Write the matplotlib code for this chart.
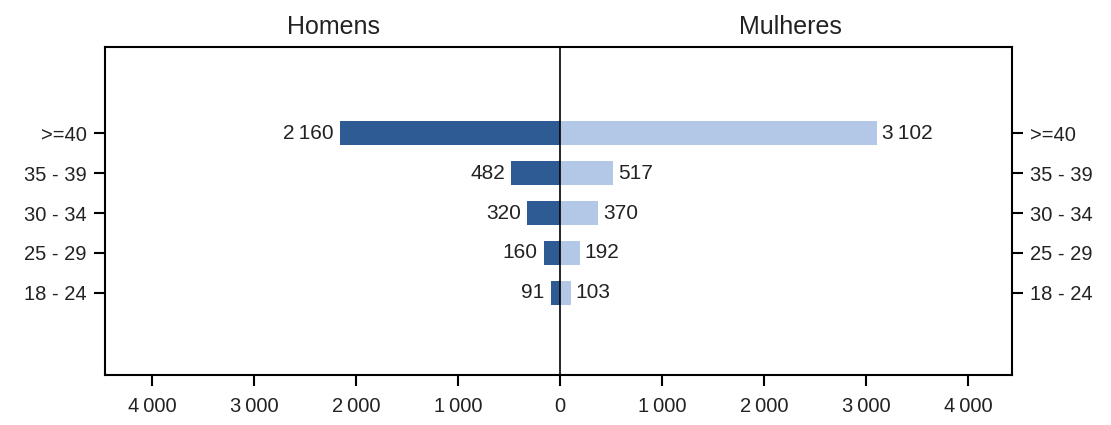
import matplotlib.pyplot as plt
import numpy as np

plt.rcParams['font.family'] = ['Liberation Sans', 'DejaVu Sans']

# Data
age_groups = ['18 - 24', '25 - 29', '30 - 34', '35 - 39', '>=40']
homens = [91, 160, 320, 482, 2160]
mulheres = [103, 192, 370, 517, 3102]
x_ticks = [-4000, -3000, -2000, -1000, 0, 1000, 2000, 3000, 4000]


def fmt(v):
    """Thousands separated by a thin space"""
    s = f"{abs(int(v)):,}"
    return s.replace(',', '\u2009')


fig, ax = plt.subplots(figsize=(11.11, 4.25), dpi=100)
fig.subplots_adjust(left=0.0945, right=0.911, top=0.889, bottom=0.118)

y = np.arange(len(age_groups))
dark = '#2E5B94'
light = '#B3C8E6'

ax.barh(y, [-v for v in homens], height=0.6, color=dark)
ax.barh(y, mulheres, height=0.6, color=light)

# value labels
for yi, v in zip(y, homens):
    ax.text(-v - 60, yi, fmt(v), ha='right', va='center', fontsize=15, color='#222222')
for yi, v in zip(y, mulheres):
    ax.text(v + 50, yi, fmt(v), ha='left', va='center', fontsize=15, color='#222222')

ax.axvline(0, color='black', linewidth=1.2)

ax.set_xlim(-4460, 4430)
ax.set_ylim(-2.05, 6.15)
ax.set_xticks(x_ticks)
ax.set_xticklabels([fmt(t) for t in x_ticks], fontsize=14.5, color='#222222')
ax.set_yticks(y)
ax.set_yticklabels(age_groups, fontsize=14.5, color='#222222')
ax.tick_params(axis='y', left=True, right=True, labelleft=True, labelright=True,
               length=8, width=1.5, pad=5)
ax.tick_params(axis='x', length=8, width=1.5, pad=8)

for sp in ax.spines.values():
    sp.set_linewidth(1.5)

# side headers
ax.text(-2225, 1.025, 'Homens', transform=ax.get_xaxis_transform(),
        ha='center', va='bottom', fontsize=18, color='#222222')
ax.text(2255, 1.025, 'Mulheres', transform=ax.get_xaxis_transform(),
        ha='center', va='bottom', fontsize=18, color='#222222')

plt.savefig('out.png', dpi=100)
